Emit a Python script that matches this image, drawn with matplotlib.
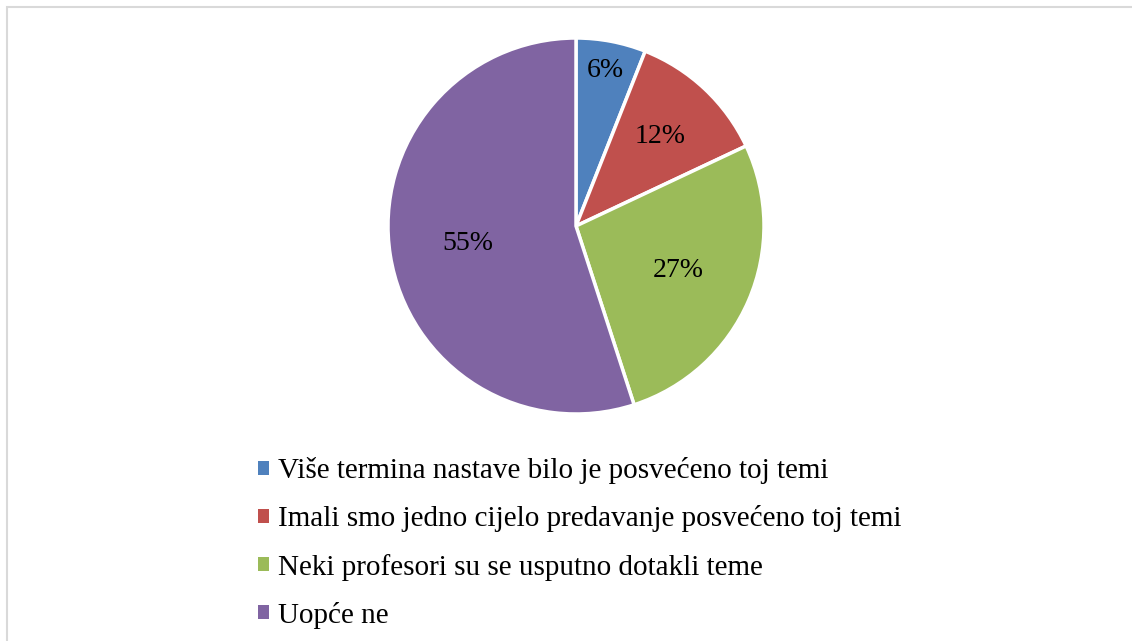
import numpy as np
import matplotlib.pyplot as plt
from matplotlib.patches import Patch, Rectangle

labels = ["Više termina nastave bilo je posvećeno toj temi",
          "Imali smo jedno cijelo predavanje posvećeno toj temi",
          "Neki profesori su se usputno dotakli teme",
          "Uopće ne"]
values = [6, 12, 27, 55]
colors = ["#4F81BD", "#C0504D", "#9BBB59", "#8064A2"]
label_dist = [0.84, 0.65, 0.59, 0.58]

plt.rcParams['font.family'] = ['Liberation Serif', 'DejaVu Serif']

W, H = 1132, 641
fig = plt.figure(figsize=(W / 100, H / 100), dpi=100)

# light frame (only top and left edges fall inside the picture)
fig.patches.append(Rectangle((6.5 / W, -0.1), 2, 1.1 - 7 / H, transform=fig.transFigure,
                             fill=False, edgecolor="#D9D9D9", linewidth=1.5))

cx, cy, r = 576, 226, 188
ax = fig.add_axes([(cx - r) / W, (H - cy - r) / H, 2 * r / W, 2 * r / H])
wedges, _ = ax.pie(values, colors=colors, startangle=90, counterclock=False,
                   radius=1, wedgeprops=dict(edgecolor="white", linewidth=2.5))
ax.set_xlim(-1, 1)
ax.set_ylim(-1, 1)
ax.set_aspect("equal")

for w, v, d in zip(wedges, values, label_dist):
    ang = np.deg2rad((w.theta1 + w.theta2) / 2)
    ax.text(d * np.cos(ang), d * np.sin(ang), f"{v}%", ha="center", va="center",
            fontsize=20)

handles = [Patch(facecolor=c, edgecolor="none") for c in colors]
fig.legend(handles, labels, loc="upper left", bbox_to_anchor=(258 / W, 1 - 457 / H),
           frameon=False, fontsize=21, handlelength=0.36, handleheight=0.36,
           handletextpad=0.34, labelspacing=0.73, borderaxespad=0, borderpad=0)

fig.savefig("out.png", dpi=100)
